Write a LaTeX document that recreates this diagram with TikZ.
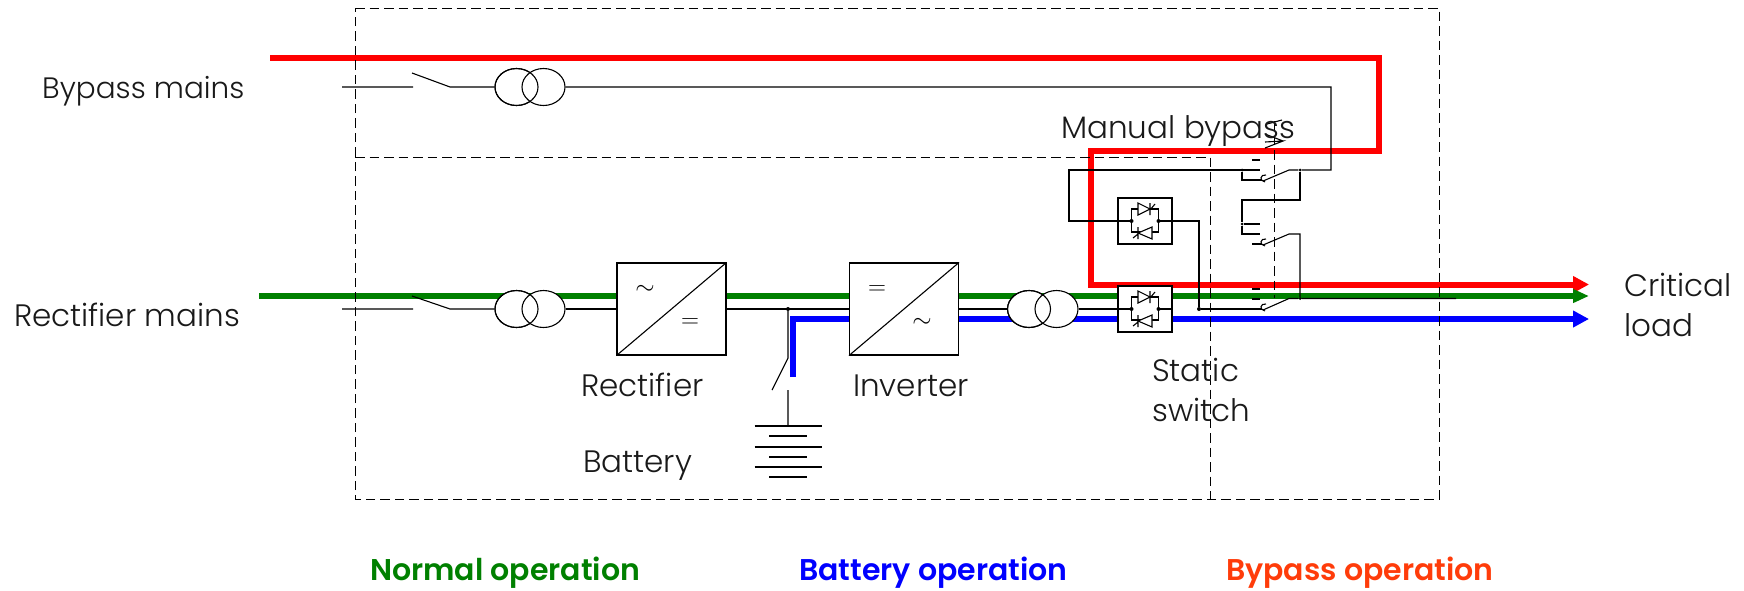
\documentclass[tikz,border=0pt]{standalone}
\usepackage{fontspec}
\usetikzlibrary{arrows.meta,shapes.geometric}
\setmainfont{Poppins Light}
\newfontfamily\boldlab{Poppins SemiBold}
\definecolor{rd}{HTML}{FF0000}
\definecolor{gn}{HTML}{008000}
\definecolor{bl}{HTML}{0000FF}
\definecolor{orng}{HTML}{FF3C0A}
\tikzset{
  wire/.style={line width=1.1pt,line join=miter},
  frame/.style={line width=1pt,draw=black,dash pattern=on 9.5pt off 5pt},
  busred/.style={draw=rd,line width=6pt,line join=miter},
  busgreen/.style={draw=gn,line width=5.5pt},
  busblue/.style={draw=bl,line width=5.5pt,line join=miter},
  tipbig/.style={-{Triangle[length=16pt,width=16pt]}},
  tipsmall/.style={-{Triangle[length=16pt,width=13pt]}},
  coil/.style={ellipse,draw=black,fill=white,line width=1.1pt,minimum width=43pt,minimum height=37pt,inner sep=0pt},
  conv/.style={rectangle,draw=black,fill=white,line width=1.1pt,minimum width=109pt,minimum height=92pt,inner sep=0pt},
  ssbox/.style={rectangle,draw=black,fill=white,line width=1.1pt,minimum width=54pt,minimum height=46pt,inner sep=0pt},
  dot/.style={circle,fill=black,inner sep=0pt,minimum size=4pt},
  lab/.style={anchor=base west,inner sep=0pt,font=\fontsize{31}{31}\selectfont,text=black!90},
  lab2/.style={lab,font=\fontsize{29.5}{29.5}\selectfont},
  oplab/.style={anchor=base west,inner sep=0pt,font=\fontsize{30}{30}\boldlab},
  sym/.style={inner sep=0pt,font=\fontsize{32}{32}\selectfont},
  thyr/.pic={
    \coordinate (-l) at (-13.5,0);
    \coordinate (-r) at (13.5,0);
    \draw[wire] (-13.5,0) -- (-13.5,-12) -- (13.5,-12) -- (13.5,11) -- (-13.5,11) -- cycle;
    \draw[wire,fill=white] (-7,-18) -- (5,-12) -- (-7,-6) -- cycle;
    \draw[wire] (5,-18) -- (5,-6) (5,-11) -- (10,-17);
    \draw[wire,fill=white] (7,6) -- (-7,12) -- (7,18) -- cycle;
    \draw[wire] (-7,6) -- (-7,18) (-7,13) -- (-12,17);
    \fill (-13.5,0) circle (2pt) (13.5,0) circle (2pt);
  }
}
\begin{document}
\begin{tikzpicture}[x=1pt,y=-1pt]
\useasboundingbox (0,0) rectangle (1744,590);
% coloured flows
\coordinate (rA) at (270,57.5);
\coordinate (rB) at (1379,57.5);
\coordinate (rC) at (1379,151);
\coordinate (rD) at (1091,151);
\coordinate (rE) at (1091,284.5);
\coordinate (rF) at (1589,284.5);
\coordinate (gA) at (259,296);
\coordinate (gF) at (1589,296);
\coordinate (bA) at (793,377);
\coordinate (bB) at (793,319);
\coordinate (bF) at (1589,319);
\draw[busred,tipbig] (rA) -- (rB) -- (rC) -- (rD) -- (rE) -- (rF);
\draw[busgreen,tipsmall] (gA) -- (gF);
\draw[busblue,tipbig] (bA) -- (bB) -- (bF);
% frames
\coordinate (fa) at (355,8);
\coordinate (fb) at (1439,8);
\coordinate (fc) at (1439,499);
\coordinate (fd) at (355,499);
\coordinate (fe) at (355,157);
\coordinate (ff) at (1210,157);
\coordinate (fg) at (1210,499);
\coordinate (fh) at (1274,121);
\coordinate (fi) at (1274,298);
\draw[frame] (fa) -- (fb) -- (fc) -- (fd) -- cycle;
\draw[frame] (fe) -- (ff) -- (fg);
\draw[frame] (fh) -- (fi);
% mechanism mark
\coordinate (ma) at (1265,142);
\coordinate (mb) at (1283,141);
\coordinate (mc) at (1265,148);
\coordinate (md) at (1265,134);
\coordinate (me) at (1267,124);
\coordinate (mf) at (1282,120);
\draw[wire] (ma) -- (mb) -- (mc) (md) -- (mb) (me) -- (mf);
% bypass row
\node[coil] (t1a) at (516.5,87) {};
\node[coil] (t1b) at (543.5,87) {};
\node[coil,fill=none] (t1c) at (516.5,87) {};
\coordinate (ba) at (342,87);
\coordinate (bb) at (413,87);
\coordinate (bc) at (412,73);
\coordinate (bd) at (450,87);
\draw[wire] (ba) -- (bb) (bc) -- (bd) -- (t1a.west);
% rectifier row
\node[coil] (t2a) at (516.5,309) {};
\node[coil] (t2b) at (543.5,309) {};
\node[coil,fill=none] (t2c) at (516.5,309) {};
\coordinate (ca) at (342,309);
\coordinate (cb) at (413,309);
\coordinate (cc) at (412,296);
\coordinate (cd) at (450,309);
\draw[wire] (ca) -- (cb) (cc) -- (cd) -- (t2a.west);
\node[conv] (rect) at (671.5,309) {};
\node[conv] (inv) at (904,309) {};
\draw[wire] (t2b.east) -- (rect.west);
\draw[wire] (rect.south west) -- (rect.north east);
\draw[wire] (inv.south west) -- (inv.north east);
\node[dot] (jb) at (788,309) {};
\draw[wire] (rect.east) -- (inv.west);
\node[sym] (s1) at (645,290) {$\sim$};
\node[sym] (s2) at (690,323) {$=$};
\node[sym] (s3) at (877,290) {$=$};
\node[sym] (s4) at (922,323) {$\sim$};
% battery branch
\coordinate (ka) at (788,358);
\coordinate (kb) at (772,390);
\coordinate (kc) at (788,390);
\coordinate (b1) at (788,426);
\draw[wire] (jb) -- (ka) -- (kb) (kc) -- (b1);
\foreach \yy/\hw in {426/33.5,436/19,447/33.5,457/19,467/33.5,477/19}{
  \draw[wire] (788-\hw,\yy) -- (788+\hw,\yy);
}
% inverter output
\node[coil] (t3a) at (1029,309) {};
\node[coil] (t3b) at (1056.5,309) {};
\node[coil,fill=none] (t3c) at (1029,309) {};
\draw[wire] (inv.east) -- (t3a.west);
% static switches
\node[ssbox] (ssu) at (1145,221) {};
\node[ssbox] (ssl) at (1145,309) {};
\pic (thu) at (1145,221) {thyr};
\pic (thl) at (1145,309) {thyr};
\draw[wire] (t3b.east) -- (thl-l);
\draw[wire] (ssl.west) -- (thl-l) (ssu.west) -- (thu-l) (ssu.east) -- (thu-r) (ssl.east) -- (thl-r);
\node[dot] (jc) at (1199,309) {};
\coordinate (ua) at (1199,221);
\draw[wire] (ssu.east) -- (ua) -- (jc);
\coordinate (la) at (1069,221);
\coordinate (lb) at (1069,170);
\node[dot,minimum size=3pt] (jd) at (1242,170) {};
\coordinate (lc) at (1260,170);
\draw[wire] (ssu.west) -- (la) -- (lb) -- (lc);
\coordinate (le) at (1242,180);
\coordinate (lf) at (1262,180);
\draw[wire] (jd) -- (le) -- (lf);
\coordinate (da) at (1252,160);
\coordinate (db) at (1260,160);
\draw[wire] (da) -- (db);
% switch 1 blade and bypass feed
\coordinate (h1a) at (1266,175);
\coordinate (h1b) at (1265,182);
\coordinate (h1c) at (1263,181);
\coordinate (h1d) at (1289,170);
\node[dot,minimum size=3pt] (je) at (1300,170) {};
\coordinate (fe1) at (1331,170);
\coordinate (fe2) at (1331,87);
\draw[wire] (h1a) .. controls (1260,174) and (1259,181) .. (h1b);
\draw[wire] (h1c) -- (h1d) -- (je) -- (fe1) -- (fe2) -- (t1b.east);
% switch 2
\coordinate (sa) at (1300,200);
\coordinate (sb) at (1242,200);
\node[dot,minimum size=3pt] (jf) at (1242,224) {};
\coordinate (sc) at (1242,234);
\coordinate (sd) at (1260,234);
\coordinate (se) at (1260,224);
\coordinate (sf) at (1252,244);
\coordinate (sg) at (1262,244);
\draw[wire] (je) -- (sa) -- (sb) -- (jf) -- (sc) -- (sd);
\draw[wire] (jf) -- (se);
\draw[wire] (sf) -- (sg);
\coordinate (h2a) at (1266,239);
\coordinate (h2b) at (1265,246);
\coordinate (h2c) at (1263,245);
\coordinate (h2d) at (1289,234);
\coordinate (h2e) at (1300,234);
\node[dot,minimum size=3pt] (jg) at (1300,298.5) {};
\draw[wire] (h2a) .. controls (1260,238) and (1259,245) .. (h2b);
\draw[wire] (h2c) -- (h2d) -- (h2e) -- (jg);
% switch 3
\coordinate (ta) at (1252,289);
\coordinate (tb) at (1260,289);
\coordinate (tc) at (1252,299);
\coordinate (td) at (1260,299);
\coordinate (te) at (1262,309);
\draw[wire] (ta) -- (tb) (tc) -- (td);
\draw[wire] (jc) -- (te);
\coordinate (h3a) at (1266,304);
\coordinate (h3b) at (1265,311);
\coordinate (h3c) at (1263,310);
\coordinate (h3d) at (1289,298.5);
\coordinate (out) at (1456,298.5);
\draw[wire] (h3a) .. controls (1260,303) and (1259,310) .. (h3b);
\draw[wire] (h3c) -- (h3d) -- (jg) -- (out);
% labels
\node[lab2] (l1) at (42,98) {Bypass mains};
\node[lab] (l2) at (14,326) {Rectifier mains};
\node[lab] (l3) at (581,396) {Rectifier};
\node[lab] (l4) at (853,396) {Inverter};
\node[lab] (l5) at (583,472) {Battery};
\node[lab] (l6) at (1152,381) {Static};
\node[lab] (l7) at (1152,421) {switch};
\node[lab] (l8) at (1061,138) {Manual bypass};
\node[lab] (l9) at (1624,296) {Critical};
\node[lab] (l10) at (1624,336) {load};
\node[oplab,text=gn] (o1) at (370,580) {Normal operation};
\node[oplab,text=bl] (o2) at (799,580) {Battery operation};
\node[oplab,text=orng] (o3) at (1226,580) {Bypass operation};
\end{tikzpicture}
\end{document}
